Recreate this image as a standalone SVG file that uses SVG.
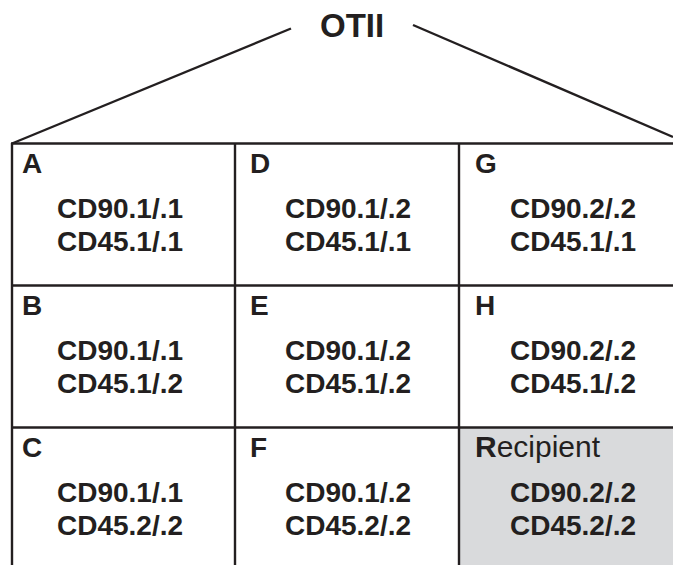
<svg xmlns="http://www.w3.org/2000/svg" width="673" height="565" viewBox="0 0 673 565">
  <style>
    .ln { stroke: #231f20; stroke-width: 2.4; fill: none; }
    .lbl { font-family: "Liberation Sans", Arial, sans-serif; font-size: 28px; font-weight: bold; fill: #231f20; }
    .val { font-family: "Liberation Sans", Arial, sans-serif; font-size: 28px; font-weight: bold; fill: #231f20; }
    .title { font-family: "Liberation Sans", Arial, sans-serif; font-size: 33px; font-weight: bold; fill: #231f20; }
  </style>
  <rect width="673" height="565" fill="#ffffff"/>

  <!-- recipient cell shading -->
  <rect x="460" y="428" width="213" height="137" fill="#d9dadc"/>

  <!-- roof and title -->
  <g id="roof">
    <text class="title" x="320" y="37">OTII</text>
  </g>

  <g id="connectors">
    <line class="ln" x1="12" y1="143.5" x2="291" y2="28.5"/>
    <line class="ln" x1="413" y1="25" x2="673" y2="137"/>
    <!-- grid -->
    <line class="ln" x1="11" y1="143.5" x2="673" y2="143.5"/>
    <line class="ln" x1="12" y1="285.5" x2="673" y2="285.5"/>
    <line class="ln" x1="12" y1="427.5" x2="673" y2="427.5"/>
    <line class="ln" x1="12" y1="143" x2="12" y2="565"/>
    <line class="ln" x1="235" y1="143" x2="235" y2="565"/>
    <line class="ln" x1="459" y1="143" x2="459" y2="565"/>
  </g>

  <g id="cell-A">
    <text class="lbl" x="22" y="173">A</text>
    <text class="val" x="57" y="218">CD90.1/.1</text>
    <text class="val" x="57" y="251">CD45.1/.1</text>
  </g>
  <g id="cell-D">
    <text class="lbl" x="250" y="173">D</text>
    <text class="val" x="285" y="218">CD90.1/.2</text>
    <text class="val" x="285" y="251">CD45.1/.1</text>
  </g>
  <g id="cell-G">
    <text class="lbl" x="475" y="173">G</text>
    <text class="val" x="510" y="218">CD90.2/.2</text>
    <text class="val" x="510" y="251">CD45.1/.1</text>
  </g>

  <g id="cell-B">
    <text class="lbl" x="22" y="315">B</text>
    <text class="val" x="57" y="360">CD90.1/.1</text>
    <text class="val" x="57" y="393">CD45.1/.2</text>
  </g>
  <g id="cell-E">
    <text class="lbl" x="250" y="315">E</text>
    <text class="val" x="285" y="360">CD90.1/.2</text>
    <text class="val" x="285" y="393">CD45.1/.2</text>
  </g>
  <g id="cell-H">
    <text class="lbl" x="475" y="315">H</text>
    <text class="val" x="510" y="360">CD90.2/.2</text>
    <text class="val" x="510" y="393">CD45.1/.2</text>
  </g>

  <g id="cell-C">
    <text class="lbl" x="22" y="457">C</text>
    <text class="val" x="57" y="502">CD90.1/.1</text>
    <text class="val" x="57" y="535">CD45.2/.2</text>
  </g>
  <g id="cell-F">
    <text class="lbl" x="250" y="457">F</text>
    <text class="val" x="285" y="502">CD90.1/.2</text>
    <text class="val" x="285" y="535">CD45.2/.2</text>
  </g>
  <g id="cell-R">
    <text class="lbl" x="475" y="457" style="font-size:30px"><tspan font-weight="bold">R</tspan><tspan font-weight="normal">ecipient</tspan></text>
    <text class="val" x="510" y="502">CD90.2/.2</text>
    <text class="val" x="510" y="535">CD45.2/.2</text>
  </g>
</svg>
